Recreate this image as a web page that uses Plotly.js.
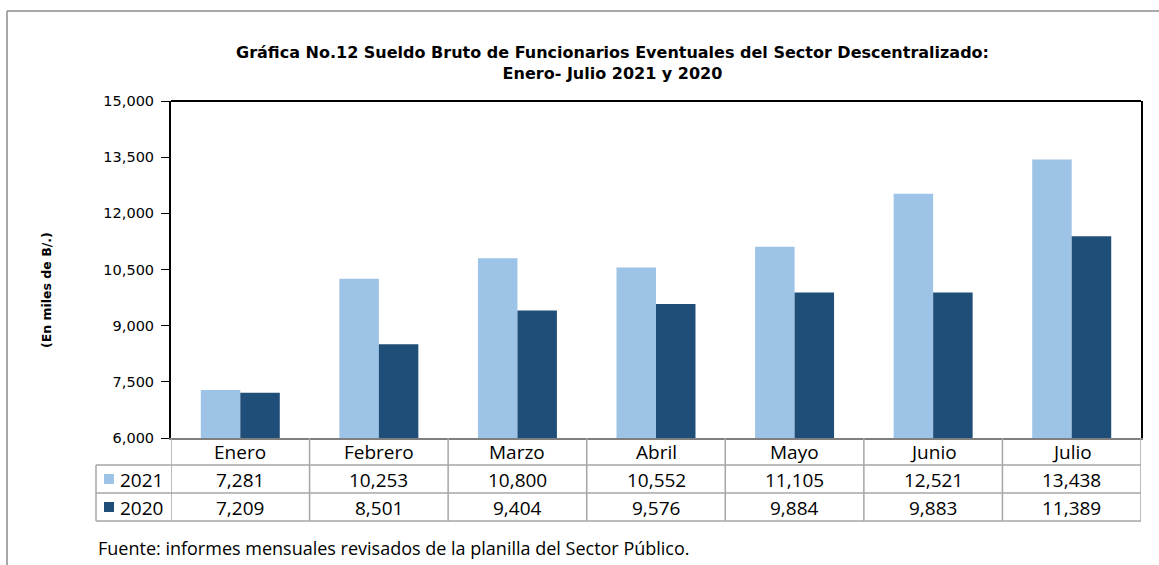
<!DOCTYPE html>
<html>
<head>
<meta charset="utf-8">
<script src="https://cdn.plot.ly/plotly-3.0.1.min.js"></script>
<style>
  body { margin: 0; background: #fff; }
  #chart { width: 1159px; height: 565px; }
</style>
</head>
<body>
<div id="chart"></div>
<script>
// data
const months = ['Enero', 'Febrero', 'Marzo', 'Abril', 'Mayo', 'Junio', 'Julio'];
const years = ['2021', '2020'];
const values2021 = [7281, 10253, 10800, 10552, 11105, 12521, 13438];
const values2020 = [7209, 8501, 9404, 9576, 9884, 9883, 11389];
const yTicks = [6000, 7500, 9000, 10500, 12000, 13500, 15000];

const colors = ['#9DC3E6', '#1F4E79'];
const W = 1159, H = 565;
const plotL = 171, plotR = 1141, plotT = 101, plotB = 438;

// pixel -> paper helpers
const px = v => (v - plotL) / (plotR - plotL);
const py = v => 1 - (v - plotT) / (plotB - plotT);

const fmt = n => n.toLocaleString('en-US');

const tableFont = { family: '"Open Sans", Lato, sans-serif', size: 19, color: '#000' };
const sansFont = '"DejaVu Sans", Arial, sans-serif';
const gridColor = '#A6A6A6';

const traces = [values2021, values2020].map((vals, i) => ({
  type: 'bar',
  name: years[i],
  x: months,
  y: vals,
  marker: { color: colors[i] },
  hoverinfo: 'x+y+name'
}));

const shapes = [];
const annotations = [];

function note(x, y, text, font, xanchor, xref) {
  annotations.push({
    xref: xref || 'paper', yref: 'paper', x, y, text, font,
    xanchor: xanchor || 'center', yanchor: 'middle', showarrow: false
  });
}

// outer frame of the page (top and left)
shapes.push({ type: 'line', xref: 'paper', yref: 'paper', x0: px(7), x1: px(W), y0: py(11), y1: py(11), line: { color: '#8C8C8C', width: 1.5 } });
shapes.push({ type: 'line', xref: 'paper', yref: 'paper', x0: px(7), x1: px(7), y0: py(11), y1: py(H), line: { color: '#8C8C8C', width: 1.5 } });

// plot border top
shapes.push({ type: 'line', xref: 'paper', yref: 'paper', x0: 0, x1: 1, y0: 1, y1: 1, line: { color: '#000', width: 2 } });

// horizontal table lines
[465, 493, 521].forEach(r => {
  shapes.push({ type: 'line', xref: 'paper', yref: 'paper', x0: px(96), x1: 1, y0: py(r), y1: py(r), line: { color: gridColor, width: 1.5 } });
});
// vertical table lines at category boundaries
for (let i = 0; i <= months.length; i++) {
  shapes.push({ type: 'line', xref: 'x', yref: 'paper', x0: i - 0.5, x1: i - 0.5, y0: py(438), y1: py(521), line: { color: gridColor, width: 1.5 } });
}
// left column box
shapes.push({ type: 'line', xref: 'paper', yref: 'paper', x0: px(96), x1: px(96), y0: py(465), y1: py(521), line: { color: gridColor, width: 1.5 } });

// month header and values
months.forEach((m, i) => {
  note(i, py(452), m, tableFont, 'center', 'x');
  note(i, py(479.5), fmt(values2021[i]), tableFont, 'center', 'x');
  note(i, py(507.5), fmt(values2020[i]), tableFont, 'center', 'x');
});

// legend keys inside table
[479, 507].forEach((cy, i) => {
  shapes.push({ type: 'rect', xref: 'paper', yref: 'paper', x0: px(104), x1: px(114), y0: py(cy - 5), y1: py(cy + 5), fillcolor: colors[i], line: { width: 0 } });
  note(px(118), py(cy + 0.5), years[i], tableFont, 'left');
});

// title
note(px(612), py(62.5),
  '<b>Gráfica No.12 Sueldo Bruto de Funcionarios Eventuales del Sector Descentralizado:</b><br><b>Enero- Julio 2021 y 2020</b>',
  { family: sansFont, size: 16, color: '#000' });

// y axis title
annotations.push({
  xref: 'paper', yref: 'paper', x: px(46), y: py(290), textangle: -90,
  xanchor: 'center', yanchor: 'middle',
  text: '<b>(En miles de B/.)</b>', showarrow: false,
  font: { family: sansFont, size: 12.5, color: '#000' }
});

// source note
note(px(96), py(548), 'Fuente: informes mensuales revisados de la planilla del Sector Público.',
  { family: '"Open Sans", Lato, sans-serif', size: 18, color: '#000' }, 'left');

const layout = {
  width: W,
  height: H,
  margin: { l: plotL, r: W - plotR, t: plotT, b: H - plotB },
  paper_bgcolor: '#fff',
  plot_bgcolor: '#fff',
  showlegend: false,
  barmode: 'group',
  bargap: 0.43,
  bargroupgap: 0,
  xaxis: {
    type: 'category',
    range: [-0.5, months.length - 0.5],
    showticklabels: false,
    ticks: '',
    showgrid: false,
    showline: true,
    linecolor: '#7F7F7F',
    linewidth: 2,
    fixedrange: true
  },
  yaxis: {
    range: [6000, 15000],
    tickvals: yTicks,
    tickformat: ',',
    ticks: 'outside',
    ticklen: 8,
    ticklabelstandoff: 4,
    tickcolor: '#000',
    showgrid: false,
    zeroline: false,
    showline: true,
    mirror: true,
    linecolor: '#000',
    linewidth: 2,
    tickfont: { family: sansFont, size: 14.5, color: '#000' },
    fixedrange: true
  },
  shapes,
  annotations
};

Plotly.newPlot('chart', traces, layout, { displayModeBar: false, staticPlot: true });
</script>
</body>
</html>
